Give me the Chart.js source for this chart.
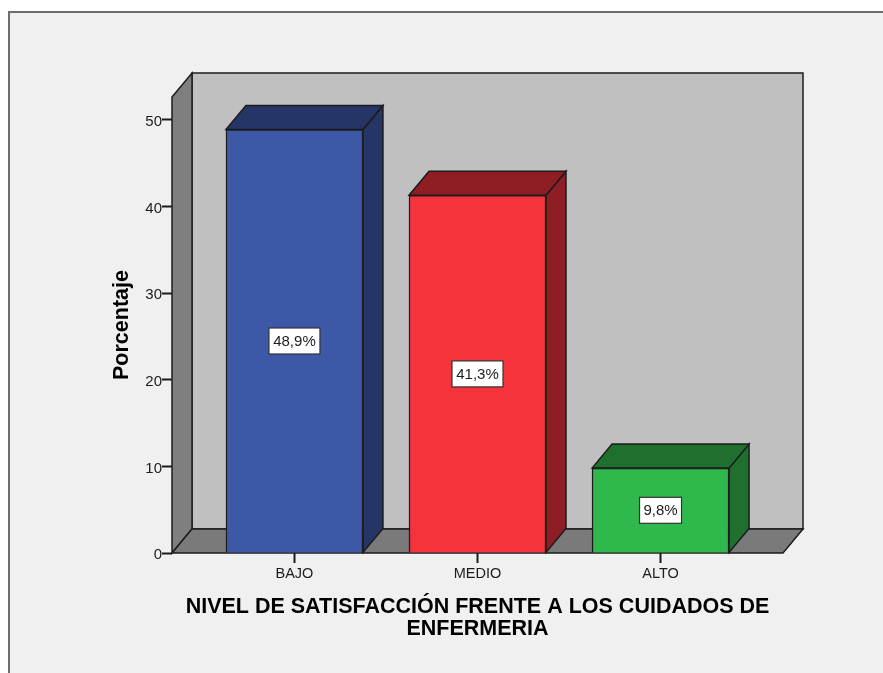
<!DOCTYPE html>
<html>
<head>
<meta charset="utf-8">
<style>html,body{margin:0;padding:0;background:#fff}canvas{display:block}</style>
<script src="https://cdn.jsdelivr.net/npm/chart.js@4"></script>
</head>
<body>
<div style="width:883px;height:673px"><canvas id="c" width="883" height="673"></canvas></div>
<script>
const categories = ['BAJO', 'MEDIO', 'ALTO'];
const percentages = [48.9, 41.3, 9.8];
const percentLabels = ['48,9%', '41,3%', '9,8%'];
const frontColors = ['#3e58a8', '#f5333b', '#2fb84c'];
const shadeColors = ['#253566', '#8e1d24', '#1f6f2e'];
const yTickStep = 10;
const xTitleLines = ['NIVEL DE SATISFACCIÓN FRENTE A LOS CUIDADOS DE', 'ENFERMERIA'];
const yTitle = 'Porcentaje';

const FONT = '"Liberation Sans", Arial, sans-serif';
const INK = '#1c1c1c';
const DEPTH_X = 20;
const DEPTH_Y = 24;

function poly(ctx, pts, fill, stroke, lw) {
  ctx.beginPath();
  pts.forEach((p, i) => i ? ctx.lineTo(p[0], p[1]) : ctx.moveTo(p[0], p[1]));
  ctx.closePath();
  ctx.fillStyle = fill;
  ctx.fill();
  ctx.strokeStyle = stroke;
  ctx.lineWidth = lw;
  ctx.lineJoin = 'miter';
  ctx.stroke();
}

// Panel background with the window edge along the top and left.
const panel = {
  id: 'panel',
  beforeDraw(chart) {
    const ctx = chart.ctx;
    ctx.save();
    ctx.fillStyle = '#ffffff';
    ctx.fillRect(0, 0, chart.width, chart.height);
    ctx.fillStyle = '#f0f0f0';
    ctx.fillRect(9, 12, chart.width - 9, chart.height - 12);
    ctx.fillStyle = '#6e6e6e';
    ctx.fillRect(8, 11, chart.width - 8, 2);
    ctx.fillRect(8, 11, 2, chart.height - 11);
    ctx.restore();
  }
};

// Box-shaped plot: back wall, left wall and floor, then the side and top faces of each bar.
const box3d = {
  id: 'box3d',
  beforeDatasetsDraw(chart) {
    const ctx = chart.ctx;
    const { left: l, right: r, top: t, bottom: b } = chart.chartArea;
    const dx = DEPTH_X, dy = DEPTH_Y;
    ctx.save();
    poly(ctx, [[l + dx, t - dy], [r + dx, t - dy], [r + dx, b - dy], [l + dx, b - dy]], '#c0c0c0', INK, 1.5);
    poly(ctx, [[l, t], [l + dx, t - dy], [l + dx, b - dy], [l, b]], '#7f7f7f', INK, 1.5);
    poly(ctx, [[l, b], [l + dx, b - dy], [r + dx, b - dy], [r, b]], '#7a7a7a', INK, 1.5);
    chart.getDatasetMeta(0).data.forEach((bar, i) => {
      const x0 = bar.x - bar.width / 2, x1 = bar.x + bar.width / 2;
      poly(ctx, [[x1, bar.y], [x1 + dx, bar.y - dy], [x1 + dx, bar.base - dy], [x1, bar.base]], shadeColors[i], INK, 1.5);
      poly(ctx, [[x0, bar.y], [x0 + dx, bar.y - dy], [x1 + dx, bar.y - dy], [x1, bar.y]], shadeColors[i], INK, 1.5);
    });
    ctx.restore();
  },
  afterDatasetsDraw(chart) {
    const ctx = chart.ctx;
    ctx.save();
    ctx.font = '15px ' + FONT;
    ctx.textAlign = 'center';
    ctx.textBaseline = 'middle';
    chart.getDatasetMeta(0).data.forEach((bar, i) => {
      const text = percentLabels[i];
      const w = Math.round(ctx.measureText(text).width) + 8, h = 26;
      const cx = bar.x, cy = (bar.y + bar.base) / 2;
      ctx.fillStyle = '#ffffff';
      ctx.fillRect(cx - w / 2, cy - h / 2, w, h);
      ctx.strokeStyle = '#333333';
      ctx.lineWidth = 1.2;
      ctx.strokeRect(cx - w / 2, cy - h / 2, w, h);
      ctx.fillStyle = INK;
      ctx.fillText(text, cx, cy + 1);
    });
    ctx.restore();
  }
};

new Chart(document.getElementById('c'), {
  type: 'bar',
  data: {
    datasets: [{
      data: percentages.map((v, i) => ({ x: i, y: v })),
      backgroundColor: frontColors,
      borderColor: INK,
      borderWidth: 1.5,
      barThickness: 137
    }]
  },
  options: {
    responsive: false,
    animation: false,
    layout: { padding: { left: 109, top: 97, right: 100, bottom: 27 } },
    plugins: { legend: { display: false }, tooltip: { enabled: false } },
    scales: {
      x: {
        type: 'linear',
        offset: false,
        min: -0.669,
        max: 2.669,
        afterBuildTicks(axis) { axis.ticks = categories.map((_, i) => ({ value: i })); },
        afterFit(axis) { axis.height = 93; },
        border: { display: false },
        grid: { offset: false, drawOnChartArea: false, tickLength: 10, tickWidth: 2, tickColor: INK },
        ticks: {
          includeBounds: false, autoSkip: false, maxRotation: 0, padding: 2,
          color: INK, font: { family: FONT, size: 14.5 },
          callback: v => categories[v]
        },
        title: {
          display: true, text: xTitleLines, color: '#000',
          font: { family: FONT, size: 21.5, weight: 'bold', lineHeight: 1.02 },
          padding: { top: 5, bottom: 6 }
        }
      },
      y: {
        min: 0,
        max: 52.65,
        afterFit(axis) { axis.width = 63; },
        border: { display: false },
        grid: { drawOnChartArea: false, tickLength: 10, tickWidth: 2, tickColor: INK },
        ticks: {
          stepSize: yTickStep, includeBounds: false, padding: 0, labelOffset: 2,
          color: INK, font: { family: FONT, size: 15 }
        },
        title: {
          display: true, text: yTitle, color: '#000',
          font: { family: FONT, size: 21.5, weight: 'bold' },
          padding: { top: 0, bottom: 0 }
        }
      }
    }
  },
  plugins: [panel, box3d]
});
</script>
</body>
</html>
